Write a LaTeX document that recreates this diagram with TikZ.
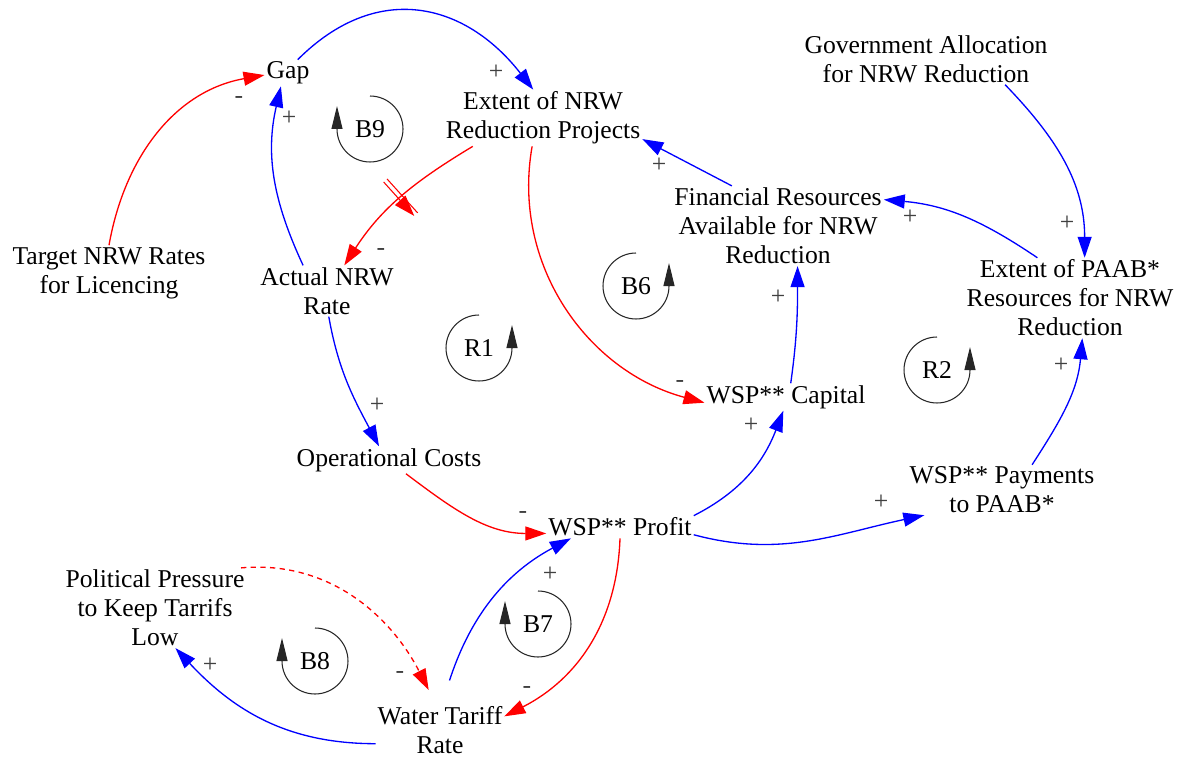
\documentclass[tikz,border=0pt]{standalone}
\usepackage{fontspec}
\setmainfont{Liberation Serif}
\usetikzlibrary{arrows.meta,decorations.markings}

\definecolor{linkblue}{RGB}{0,0,255}
\definecolor{linkred}{RGB}{255,0,0}

\tikzset{
  varbox/.style={align=center, inner sep=1pt, font=\fontsize{14.6pt}{16.5pt}\selectfont},
  sign/.style={inner sep=0pt, text=black!75, font=\fontsize{14.6pt}{16.5pt}\selectfont},
  looptag/.style={inner sep=0pt, font=\fontsize{14.6pt}{16.5pt}\selectfont},
  loopmark/.style={draw=black!85, line width=0.6pt, -{Triangle[length=0.46cm,width=0.22cm]}},
  pos link/.style={draw=linkblue, line width=0.75pt, -{Triangle[length=0.42cm,width=0.28cm]}},
  neg link/.style={draw=linkred, line width=0.75pt, -{Triangle[length=0.42cm,width=0.28cm]}},
  dashed link/.style={dash pattern=on 3pt off 2.5pt},
  delay/.style={postaction={decorate}, decoration={markings, mark=at position 0.5 with
    {\draw[linkred, line width=0.6pt, solid] (-1.3pt,-13pt) -- (-1.3pt,13pt) (1.3pt,-13pt) -- (1.3pt,13pt);}}}
}

\begin{document}
\begin{tikzpicture}[x=0.02cm, y=0.02cm]
    % Marco fijo con las proporciones de la figura
    \useasboundingbox (0,0) rectangle (1187,-757);

    % Variables
    \node[varbox] (gap) at (288,-73) {Gap};
    \node[varbox] (ext) at (543,-118) {Extent of NRW\\Reduction Projects};
    \node[varbox] (gov) at (926,-59) {Government Allocation\\for NRW Reduction};
    \node[varbox] (fin) at (778,-226) {Financial Resources\\Available for NRW\\Reduction};
    \node[varbox] (paab) at (1070,-298) {Extent of PAAB*\\Resources for NRW\\Reduction};
    \node[varbox] (target) at (109,-273) {Target NRW Rates\\for Licencing};
    \node[varbox] (actual) at (327,-291) {Actual NRW\\Rate};
    \node[varbox] (capital) at (786,-397) {WSP** Capital};
    \node[varbox] (opcost) at (389,-460) {Operational Costs};
    \node[varbox] (payment) at (1002,-490) {WSP** Payments\\to PAAB*};
    \node[varbox] (profit) at (620,-527) {WSP** Profit};
    \node[varbox] (pressure) at (155,-608) {Political Pressure\\to Keep Tarrifs\\Low};
    \node[varbox] (tariff) at (440,-730) {Water Tariff\\Rate};

    % Enlaces causales
    \draw[pos link, looseness=1.2] (gap.54) to[out=45,in=128] (ext.109);
    \draw[neg link] (target.90) to[out=80,in=190] (gap.185);
    \draw[pos link] (actual.133) to[out=115,in=257] (gap.242);
    \draw[neg link, delay] (ext.202) to[out=211,in=57] (actual.56);
    \draw[neg link] (ext.249) to[out=260,in=165] (capital.184);
    \draw[pos link] (actual.274) to[out=280,in=118] (opcost.126);
    \draw[neg link] (opcost.321) to[out=323,in=180] (profit.185);
    \draw[pos link, shorten <=0.5cm] (tariff.86) to[out=72,in=208] (profit.193);
    \draw[neg link] (profit.270) to[out=268,in=27] (tariff.12);
    \draw[neg link, dashed link, shorten >=0.32cm] (pressure.25) to[out=5,in=117] (tariff.99);
    \draw[pos link] (tariff.192) to[out=180,in=313] (pressure.297);
    \draw[pos link] (profit.north east) to[out=27,in=249] (capital.259);
    \draw[pos link] (profit.354) to[out=345,in=192] (payment.198);
    \draw[pos link] (payment.40) to[out=57,in=265] (paab.287);
    \draw[pos link] (capital.71) to[out=82,in=270] (fin.296);
    \draw[pos link] (fin.139) -- (ext.348);
    \draw[pos link] (paab.129) to[out=146,in=355] (fin.14);
    \draw[pos link] (gov.342) to[out=314,in=90] (paab.70);

    % Polaridades
    \node[sign] (s1) at (496,-72) {+};
    \node[sign] (s2) at (239,-100) {-};
    \node[sign] (s3) at (289,-118) {+};
    \node[sign] (s4) at (381,-252) {-};
    \node[sign] (s5) at (680,-384) {-};
    \node[sign] (s6) at (377,-405) {+};
    \node[sign] (s7) at (523,-515) {-};
    \node[sign] (s8) at (550,-574) {+};
    \node[sign] (s9) at (527,-690) {-};
    \node[sign] (s10) at (400,-675) {-};
    \node[sign] (s11) at (210,-665) {+};
    \node[sign] (s12) at (751,-425) {+};
    \node[sign] (s13) at (881,-502) {+};
    \node[sign] (s14) at (1061,-365) {+};
    \node[sign] (s15) at (778,-297) {+};
    \node[sign] (s16) at (659,-165) {+};
    \node[sign] (s17) at (910,-217) {+};
    \node[sign] (s18) at (1067,-223) {+};

    % Lazos: sentido horario
    \foreach \tag/\px/\py in {B9/370/-129, B7/538/-624, B8/315/-661} {
        \node[looptag] (\tag) at (\px,\py) {\tag};
        \draw[loopmark] ([shift={(90:0.66cm)}]\tag.center) arc[start angle=90,end angle=-180,radius=0.66cm] -- ++(0,0.46cm);
    }
    % Lazos: sentido antihorario
    \foreach \tag/\px/\py in {B6/636/-286, R1/479/-348, R2/937/-370} {
        \node[looptag] (\tag) at (\px,\py) {\tag};
        \draw[loopmark] ([shift={(90:0.66cm)}]\tag.center) arc[start angle=90,end angle=360,radius=0.66cm] -- ++(0,0.46cm);
    }
\end{tikzpicture}
\end{document}
